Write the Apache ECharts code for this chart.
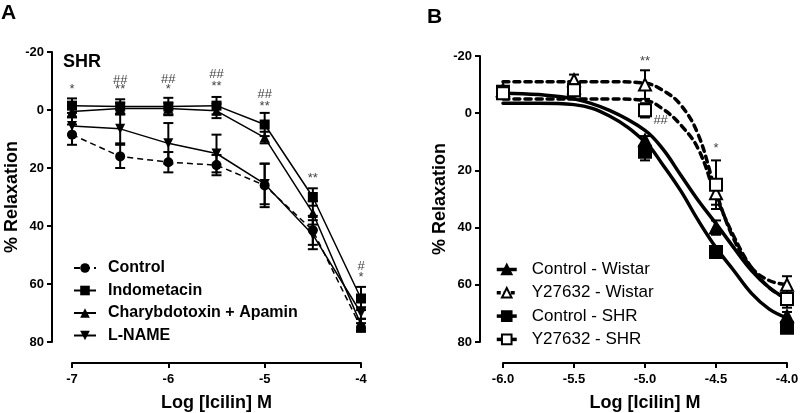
<!DOCTYPE html>
<html>
<head>
<meta charset="utf-8">
<script src="https://cdn.jsdelivr.net/npm/echarts@6/dist/echarts.min.js"></script>
<style>html,body{margin:0;padding:0;background:#fff}#c{width:800px;height:413px}</style>
</head>
<body>
<div id="c"></div>
<script>
// ---------- Panel A data ----------
const xA = [-7, -6.5, -6, -5.5, -5, -4.5, -4];
const controlA = [8.5, 16, 18, 19, 26, 41.5, 75];
const controlAErr = [3.5, 4, 3.5, 3.5, 7.5, 5, 1.5];
const indoA = [-1.5, -1.2, -1.2, -1.5, 5, 30, 65];
const indoAErr = [2.5, 2.5, 3, 3, 4, 3, 4];
const chtxA = [0.5, -0.5, -0.5, 0.3, 9.5, 35.5, 74];
const chtxAErr = [2, 2, 2, 2.5, 2, 4, 2];
const lnameA = [5.5, 6.5, 11.5, 15, 25.5, 43, 70];
const lnameAErr = [3, 5, 7, 6.5, 7, 5, 2];
const xTicksA = [-7, -6, -5, -4];
const yTicks = [-20, 0, 20, 40, 60, 80];
// annotations panel A: [x, y, text]
const annA = [
  [-7, -7, '*'], [-6.5, -10.3, '##'], [-6.5, -7, '**'],
  [-6, -10.7, '##'], [-6, -7.2, '*'], [-5.5, -12.4, '##'], [-5.5, -8.3, '**'],
  [-5, -5.2, '##'], [-5, -1.4, '**'], [-4.5, 23.5, '**'], [-4, 54, '#'], [-4, 57.6, '*']
];

// ---------- Panel B data ----------
const xB = [-6, -5.5, -5, -4.5, -4];
const ctrlW = [-8, -9, 9.5, 40, 71];
const ctrlWErr = [1, 1.5, 1.5, 2.5, 1.5];
const yW = [-8, -11.5, -10, 28, 60];
const yWErr = [1, 2, 5, 4, 3];
const ctrlS = [-7.5, -8, 13.5, 48.5, 75];
const ctrlSErr = [1.5, 2, 3, 2, 1.5];
const yS = [-7, -8, -1, 25, 65];
const ySErr = [1, 1, 2.5, 8.5, 3];
// fitted curves
const fitX = [-6, -5.75, -5.5, -5.25, -5, -4.875, -4.75, -4.625, -4.5, -4.375, -4.25, -4.125, -4];
const fitCtrlW = [-7, -6.5, -5, -1, 6, 12.5, 21.5, 30.5, 38.6, 47, 55, 61, 65];
const fitCtrlS = [-3.5, -3.5, -3, 1, 10, 18, 27, 37.5, 47, 55, 63, 68.5, 71.6];
const fitYW = [-11, -11, -11, -11, -10.5, -8, -3, 7.5, 27.5, 44, 54, 58.5, 60];
const fitYS = [-5, -5, -5, -5, -4.5, -1.5, 4, 12.5, 29, 43, 54, 61, 65];
const xTicksB = [-6, -5.5, -5, -4.5, -4];
const annB = [[-5, -18.2, '**'], [-4.89, 2.6, '##'], [-4.5, 12.2, '*']];

const pairs = (xs, ys) => xs.map((x, i) => [x, ys[i]]);

function errSeries(xs, ys, es, ai, cap, lw) {
  return {
    type: 'custom', xAxisIndex: ai, yAxisIndex: ai, silent: true, z: 1,
    data: xs.map((x, i) => [x, ys[i] - es[i], ys[i] + es[i]]),
    encode: { x: 0, y: [1, 2] },
    renderItem: function (params, api) {
      const x = api.value(0);
      const lo = api.coord([x, api.value(1)]);
      const hi = api.coord([x, api.value(2)]);
      const h = cap / 2, st = { stroke: '#000', lineWidth: lw };
      return { type: 'group', children: [
        { type: 'line', shape: { x1: lo[0], y1: lo[1], x2: hi[0], y2: hi[1] }, style: st },
        { type: 'line', shape: { x1: lo[0] - h, y1: lo[1], x2: lo[0] + h, y2: lo[1] }, style: st },
        { type: 'line', shape: { x1: hi[0] - h, y1: hi[1], x2: hi[0] + h, y2: hi[1] }, style: st }
      ]};
    }
  };
}

function annSeries(ann, ai) {
  return {
    type: 'custom', xAxisIndex: ai, yAxisIndex: ai, silent: true, z: 5,
    data: ann.map(a => [a[0], a[1]]),
    encode: { x: 0, y: 1 },
    renderItem: function (params, api) {
      const p = api.coord([api.value(0), api.value(1)]);
      return { type: 'text', x: p[0], y: p[1], style: {
        text: ann[params.dataIndex][2], fill: '#444', font: '13px "Liberation Sans", Arial, sans-serif',
        align: 'center', verticalAlign: 'middle' } };
    }
  };
}

const font = '"Liberation Sans", Arial, Helvetica, sans-serif';
const axisLbl = { color: '#000', fontWeight: 'bold', fontSize: 13, fontFamily: font };
function xAxisCfg(gi, min, max, interval, fmt) {
  return {
    type: 'value', gridIndex: gi, min: min, max: max, interval: interval, offset: 21,
    name: 'Log [Icilin] M', nameLocation: 'middle', nameGap: 31,
    nameTextStyle: { color: '#000', fontWeight: 'bold', fontSize: 18, fontFamily: font },
    axisLine: { show: true, onZero: false, lineStyle: { color: '#000', width: 2 } },
    axisTick: { show: true, length: 5, lineStyle: { color: '#000', width: 2 } },
    axisLabel: Object.assign({ margin: 10, formatter: fmt }, axisLbl),
    splitLine: { show: false }
  };
}
function yAxisCfg(gi, off, gap) {
  return {
    type: 'value', gridIndex: gi, min: -20, max: 80, interval: 20, inverse: true, offset: off,
    name: '% Relaxation', nameLocation: 'middle', nameGap: gap,
    nameTextStyle: { color: '#000', fontWeight: 'bold', fontSize: 18, fontFamily: font },
    axisLine: { show: true, onZero: false, lineStyle: { color: '#000', width: 2 } },
    axisTick: { show: true, length: 5, lineStyle: { color: '#000', width: 2 } },
    axisLabel: Object.assign({ margin: 8 }, axisLbl),
    splitLine: { show: false }
  };
}

function lineA(name, ys, symbol, rot, dashed) {
  return {
    type: 'line', name: name, xAxisIndex: 0, yAxisIndex: 0, data: pairs(xA, ys), z: 3,
    symbol: symbol, symbolSize: 10, symbolRotate: rot,
    itemStyle: { color: '#000' },
    lineStyle: { color: '#000', width: 1.5, type: dashed ? [6, 4] : 'solid' }
  };
}
function fitB(ys, dashed, w) {
  return {
    type: 'line', xAxisIndex: 1, yAxisIndex: 1, data: pairs(fitX, ys), smooth: 0.4,
    symbol: 'none', silent: true, z: 2,
    lineStyle: { color: '#000', width: w, type: dashed ? [6, 5] : 'solid', cap: 'round' }
  };
}
function ptsB(name, ys, symbol) {
  return {
    type: 'line', name: name, xAxisIndex: 1, yAxisIndex: 1, data: pairs(xB, ys), z: 4,
    symbol: symbol, symbolSize: 12, itemStyle: { color: '#000', borderColor: '#000', borderWidth: 2 },
    lineStyle: { width: 0, opacity: 0 }
  };
}

const option = {
  animation: false,
  textStyle: { fontFamily: font },
  grid: [
    { left: 72, top: 52, width: 289, height: 290, containLabel: false, outerBoundsMode: 'none' },
    { left: 503, top: 56, width: 284, height: 286, containLabel: false, outerBoundsMode: 'none' }
  ],
  xAxis: [
    xAxisCfg(0, -7, -4, 1, v => String(v)),
    xAxisCfg(1, -6, -4, 0.5, v => v.toFixed(1))
  ],
  yAxis: [yAxisCfg(0, 20, 25), yAxisCfg(1, 23, 26)],
  legend: [
    {
      orient: 'vertical', left: 68, top: 255, itemWidth: 22, itemHeight: 12, itemGap: 6.5,
      textStyle: { color: '#000', fontWeight: 'bold', fontSize: 16, fontFamily: font, padding: [0, 0, 0, 7] },
      data: ['Control', 'Indometacin', 'Charybdotoxin + Apamin', 'L-NAME']
    },
    {
      orient: 'vertical', left: 490, top: 256, itemWidth: 20, itemHeight: 12, itemGap: 6.3,
      textStyle: { color: '#000', fontSize: 17, fontFamily: font, padding: [0, 0, 0, 10] },
      data: [
        { name: 'Control - Wistar', lineStyle: { width: 3.5, type: 'solid', color: '#000', opacity: 1 } },
        { name: 'Y27632 - Wistar', lineStyle: { width: 3.5, type: [4, 3], color: '#000', opacity: 1 } },
        { name: 'Control - SHR', lineStyle: { width: 3.5, type: 'solid', color: '#000', opacity: 1 } },
        { name: 'Y27632 - SHR', lineStyle: { width: 3.5, type: 'solid', color: '#000', opacity: 1 } }
      ]
    }
  ],
  graphic: [
    { type: 'text', left: 1, top: 3, style: { text: 'A', font: 'bold 21px ' + font, fill: '#000' } },
    { type: 'text', left: 427, top: 7, style: { text: 'B', font: 'bold 21px ' + font, fill: '#000' } },
    { type: 'text', left: 63, top: 53, style: { text: 'SHR', font: 'bold 18px ' + font, fill: '#000' } }
  ],
  series: [
    errSeries(xA, controlA, controlAErr, 0, 10, 2),
    errSeries(xA, indoA, indoAErr, 0, 10, 2),
    errSeries(xA, chtxA, chtxAErr, 0, 10, 2),
    errSeries(xA, lnameA, lnameAErr, 0, 10, 2),
    lineA('Control', controlA, 'circle', 0, true),
    lineA('Indometacin', indoA, 'rect', 0, false),
    lineA('Charybdotoxin + Apamin', chtxA, 'triangle', 0, false),
    lineA('L-NAME', lnameA, 'triangle', 180, false),
    annSeries(annA, 0),

    fitB(fitCtrlW, false, 3.5),
    fitB(fitCtrlS, false, 3.5),
    fitB(fitYW, true, 3.5),
    fitB(fitYS, true, 3.5),
    errSeries(xB, ctrlW, ctrlWErr, 1, 10, 2),
    errSeries(xB, yW, yWErr, 1, 10, 2),
    errSeries(xB, ctrlS, ctrlSErr, 1, 10, 2),
    errSeries(xB, yS, ySErr, 1, 10, 2),
    ptsB('Control - Wistar', ctrlW, 'triangle'),
    ptsB('Y27632 - Wistar', yW, 'emptyTriangle'),
    ptsB('Control - SHR', ctrlS, 'rect'),
    ptsB('Y27632 - SHR', yS, 'emptyRect'),
    annSeries(annB, 1)
  ]
};
const chart = echarts.init(document.getElementById('c'), null, { renderer: 'canvas' });
chart.setOption(option);
</script>
</body>
</html>
